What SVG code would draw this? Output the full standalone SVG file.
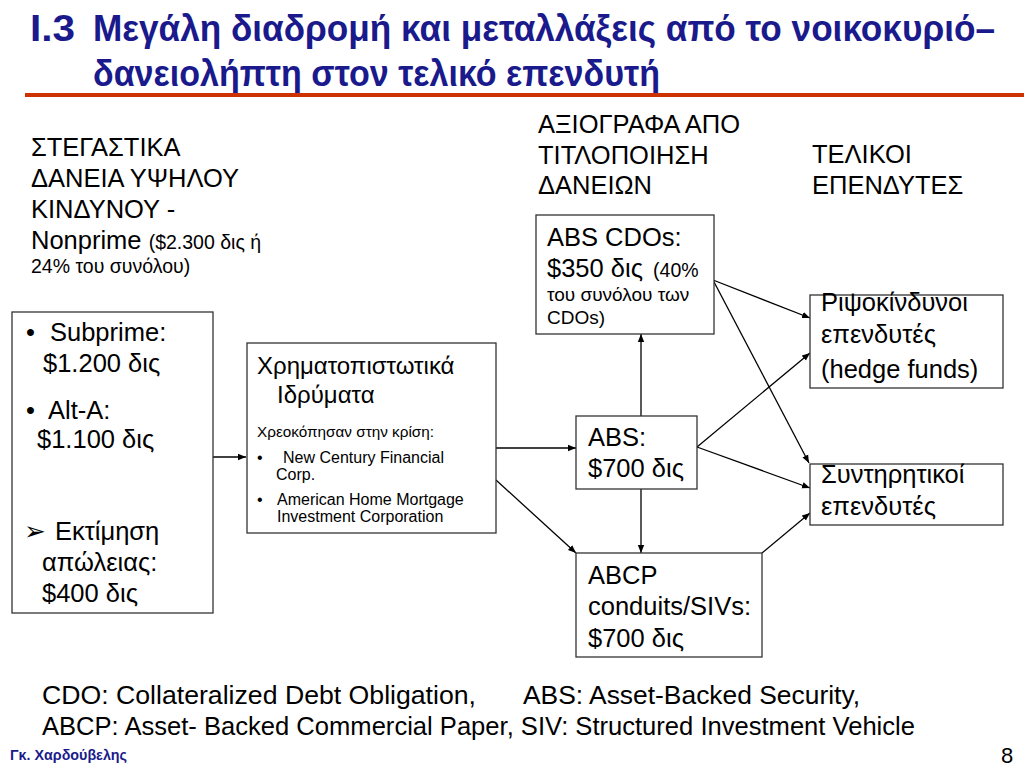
<svg xmlns="http://www.w3.org/2000/svg" width="1024" height="768" viewBox="0 0 1024 768">
<defs>
<marker id="ah" viewBox="0 0 10 10" refX="10" refY="5" markerWidth="8" markerHeight="8" markerUnits="userSpaceOnUse" orient="auto">
<path d="M0,1 L10,5 L0,9 z" fill="#000"/>
</marker>
<style>
text{font-family:"Liberation Sans",Arial,sans-serif;fill:#000}
.t{font-family:"Liberation Sans",Arial,sans-serif;font-weight:bold;fill:#1a1a8c;font-size:33px}
.h{font-size:25.5px}
.m{font-size:19.5px}
.s{font-size:16px}
.box{fill:#fff;stroke:#333;stroke-width:1.3}
.c{stroke:#000;stroke-width:1.3;fill:none;marker-end:url(#ah)}
</style>
</defs>
<rect width="1024" height="768" fill="#fff"/>
<g id="title">
<text class="t" transform="translate(30,41) scale(1,1.1)" x="0" y="0" textLength="45" lengthAdjust="spacingAndGlyphs">I.3</text>
<text class="t" transform="translate(93,41) scale(1,1.1)" x="0" y="0" textLength="902" lengthAdjust="spacingAndGlyphs">Μεγάλη διαδρομή και μεταλλάξεις από το νοικοκυριό–</text>
<text class="t" transform="translate(93,86) scale(1,1.1)" x="0" y="0" textLength="567" lengthAdjust="spacingAndGlyphs">δανειολήπτη στον τελικό επενδυτή</text>
<rect x="25" y="93" width="999" height="4" fill="#cc3300"/>
</g>
<g id="heading-loans">
<text class="h" x="31" y="156">ΣΤΕΓΑΣΤΙΚΑ</text>
<text class="h" x="31" y="187">ΔΑΝΕΙΑ ΥΨΗΛΟΥ</text>
<text class="h" x="31" y="218">ΚΙΝΔΥΝΟΥ -</text>
<text x="31" y="249"><tspan class="h">Nonprime </tspan><tspan class="m">($2.300 δις ή</tspan></text>
<text class="m" x="31" y="273">24% του συνόλου)</text>
</g>
<g id="heading-securities">
<text class="h" x="538" y="133">ΑΞΙΟΓΡΑΦΑ ΑΠΟ</text>
<text class="h" x="538" y="164">ΤΙΤΛΟΠΟΙΗΣΗ</text>
<text class="h" x="538" y="194">ΔΑΝΕΙΩΝ</text>
</g>
<g id="heading-investors">
<text class="h" x="812" y="163">ΤΕΛΙΚΟΙ</text>
<text class="h" x="812" y="194">ΕΠΕΝΔΥΤΕΣ</text>
</g>
<g id="connectors">
<line class="c" x1="213" y1="457" x2="246" y2="457"/>
<line class="c" x1="496" y1="448" x2="576" y2="448"/>
<line class="c" x1="496" y1="480" x2="576" y2="553"/>
<line class="c" x1="641" y1="489" x2="641" y2="553"/>
<line class="c" x1="641" y1="416" x2="641" y2="334"/>
<line class="c" x1="713" y1="280" x2="810" y2="318"/>
<line class="c" x1="713" y1="280" x2="809" y2="463"/>
<line class="c" x1="697" y1="447" x2="810" y2="353"/>
<line class="c" x1="697" y1="447" x2="810" y2="488"/>
<line class="c" x1="762" y1="553" x2="810" y2="513"/>
</g>
<g id="node-loans">
<rect class="box" x="12" y="312" width="201" height="301"/>
<text class="h" x="26" y="341">•</text>
<text class="h" x="50" y="341">Subprime:</text>
<text class="h" x="43" y="372">$1.200 δις</text>
<text class="h" x="26" y="419">•</text>
<text class="h" x="48" y="419">Alt-A:</text>
<text class="h" x="37" y="448">$1.100 δις</text>
<text class="h" x="24" y="540" font-size="19">➢</text>
<text class="h" x="55" y="540">Εκτίμηση</text>
<text class="h" x="42" y="571">απώλειας:</text>
<text class="h" x="42" y="602">$400 δις</text>
</g>
<g id="node-banks">
<rect class="box" x="247" y="343" width="249" height="190"/>
<text x="257" y="374" font-size="24">Χρηματοπιστωτικά</text>
<text x="277" y="403" font-size="24">Ιδρύματα</text>
<text x="257" y="437" font-size="15.3">Χρεοκόπησαν στην κρίση:</text>
<text class="s" x="257" y="463">•</text>
<text class="s" x="283" y="463">New Century Financial</text>
<text class="s" x="276" y="480">Corp.</text>
<text class="s" x="257" y="505">•</text>
<text class="s" x="277" y="505">American Home Mortgage</text>
<text class="s" x="277" y="522">Investment Corporation</text>
</g>
<g id="node-abscdo">
<rect class="box" x="536" y="215" width="178" height="119"/>
<text class="h" x="547" y="246">ABS CDOs:</text>
<text x="547" y="277"><tspan class="h">$350 δις </tspan><tspan class="m" dx="3">(40%</tspan></text>
<text x="547" y="301" font-size="19">του συνόλου των</text>
<text x="547" y="324" font-size="19">CDOs)</text>
</g>
<g id="node-abs">
<rect class="box" x="576" y="416" width="121" height="73"/>
<text class="h" x="588" y="446">ABS:</text>
<text class="h" x="588" y="477">$700 δις</text>
</g>
<g id="node-abcp">
<rect class="box" x="576" y="553" width="186" height="104"/>
<text class="h" x="588" y="584">ABCP</text>
<text class="h" x="588" y="615">conduits/SIVs:</text>
<text class="h" x="588" y="647">$700 δις</text>
</g>
<g id="node-hedge">
<rect class="box" x="810" y="295" width="193" height="93"/>
<text class="h" x="821" y="311">Ριψοκίνδυνοι</text>
<text class="h" x="821" y="343">επενδυτές</text>
<text class="h" x="821" y="378">(hedge funds)</text>
</g>
<g id="node-conservative">
<rect class="box" x="810" y="464" width="193" height="61"/>
<text class="h" x="821" y="483">Συντηρητικοί</text>
<text class="h" x="821" y="515">επενδυτές</text>
</g>
<g id="footer">
<text x="42" y="704" font-size="25" textLength="434" lengthAdjust="spacingAndGlyphs">CDO: Collateralized Debt Obligation,</text>
<text x="523" y="704" font-size="25" textLength="337" lengthAdjust="spacingAndGlyphs">ABS: Asset-Backed Security,</text>
<text x="42" y="735" font-size="25" textLength="873" lengthAdjust="spacingAndGlyphs">ABCP: Asset- Backed Commercial Paper, SIV: Structured Investment Vehicle</text>
<text x="10" y="760" font-size="14" font-weight="bold" style="fill:#1a1a8c" textLength="117" lengthAdjust="spacingAndGlyphs">Γκ. Χαρδούβελης</text>
<text x="1001" y="763" font-size="22">8</text>
</g>
</svg>
